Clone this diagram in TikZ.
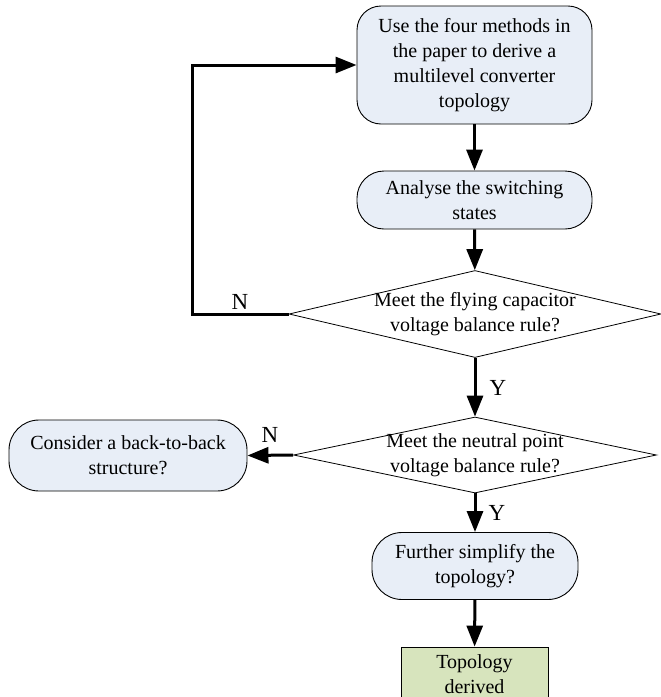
\documentclass[tikz,border=0pt]{standalone}
\usepackage{fontspec}
\setmainfont{Liberation Serif}
\usetikzlibrary{shapes.geometric,arrows.meta}
\definecolor{boxblue}{RGB}{232,238,247}
\definecolor{boxgreen}{RGB}{215,228,189}
\tikzset{
    procbox/.style={draw, line width=0.9pt, fill=boxblue, rounded corners=27pt,
        align=center, inner sep=0pt},
    decision/.style={draw, line width=0.8pt, diamond, inner sep=0pt},
    endbox/.style={draw, line width=0.9pt, fill=boxgreen, align=center, inner sep=0pt},
    flowarrow/.style={line width=3pt, -{Triangle[length=21pt,width=16pt]}},
    answer/.style={inner sep=1pt, font=\fontsize{23}{27}\selectfont}
}
\begin{document}
\begin{tikzpicture}[x=1pt,y=-1pt,font=\fontsize{20}{25}\selectfont]
            \useasboundingbox (0,0) rectangle (661,697);
            %Nodes
            \node[procbox, minimum width=235pt, minimum height=118pt, rounded corners=24pt] at (474.5,65) (derive)
                {Use the four methods in\\the paper to derive a\\multilevel converter\\topology};
            \node[procbox, minimum width=235pt, minimum height=58pt] at (474.5,200) (states)
                {Analyse the switching\\states};
            \node[decision, minimum width=372pt, minimum height=87pt] at (475,314) (flying) {};
            \node[align=center] at (475,314) {Meet the flying capacitor\\voltage balance rule?};
            \node[decision, minimum width=363pt, minimum height=76pt] at (475,455) (neutral) {};
            \node[align=center] at (475,455) {Meet the neutral point\\voltage balance rule?};
            \node[procbox, minimum width=238pt, minimum height=71pt, rounded corners=30pt] at (128,455.5) (backtoback)
                {Consider a back-to-back\\structure?};
            \node[procbox, minimum width=206pt, minimum height=67pt, rounded corners=30pt] at (475,566) (simplify)
                {Further simplify the\\topology?};
            \node[endbox, minimum width=147pt, minimum height=54pt] at (474.5,674) (derived)
                {Topology\\derived};
            \coordinate (loop) at (192,314);

            %Lines
            \draw[flowarrow] (derive) -- (states);
            \draw[flowarrow] (states) -- (flying);
            \draw[flowarrow] (flying.west) -- (loop) |- (derive.west);
            \draw[flowarrow] (flying) -- (neutral);
            \draw[flowarrow] (neutral.west) -- (backtoback.east);
            \draw[flowarrow] (neutral) -- (simplify);
            \draw[flowarrow] (simplify) -- (derived);

            %Labels
            \node[answer] at (240,302) (nflying) {N};
            \node[answer] at (498,388) (yflying) {Y};
            \node[answer] at (270,435) (nneutral) {N};
            \node[answer] at (497,513) (yneutral) {Y};
        \end{tikzpicture}
\end{document}
